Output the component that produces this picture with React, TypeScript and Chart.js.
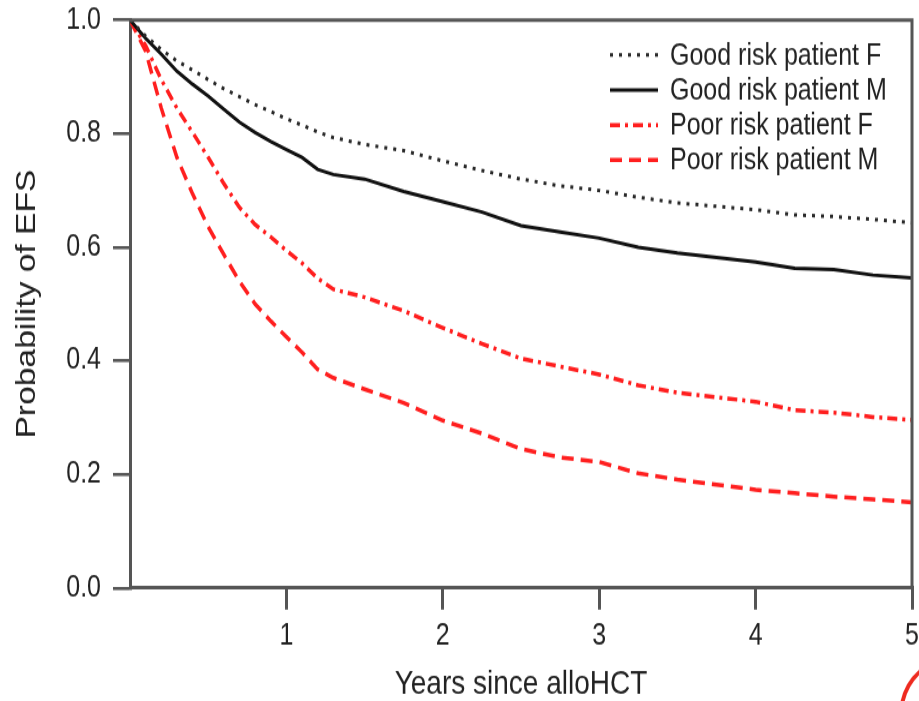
import React, { useEffect, useRef } from 'react';
import { Chart, registerables } from 'chart.js';

Chart.register(...registerables);

// ---- data (years since alloHCT, probability of EFS) ----
const times = [0, 0.1, 0.2, 0.3, 0.4, 0.5, 0.6, 0.7, 0.8, 0.9, 1.0, 1.1, 1.2, 1.3, 1.5, 1.75, 2.0, 2.25, 2.5, 2.75, 3.0, 3.25, 3.5, 3.75, 4.0, 4.25, 4.5, 4.75, 5.0];
const goodRiskF = [1.0, 0.972, 0.948, 0.928, 0.912, 0.895, 0.879, 0.865, 0.851, 0.839, 0.826, 0.815, 0.803, 0.793, 0.781, 0.77, 0.752, 0.735, 0.72, 0.708, 0.7, 0.688, 0.678, 0.672, 0.666, 0.657, 0.654, 0.649, 0.643];
const goodRiskM = [1.0, 0.968, 0.94, 0.91, 0.887, 0.866, 0.843, 0.82, 0.802, 0.786, 0.772, 0.758, 0.737, 0.728, 0.72, 0.698, 0.68, 0.662, 0.638, 0.627, 0.616, 0.6, 0.59, 0.582, 0.574, 0.563, 0.561, 0.551, 0.546];
const poorRiskF = [1.0, 0.955, 0.895, 0.845, 0.802, 0.758, 0.712, 0.67, 0.64, 0.618, 0.594, 0.572, 0.545, 0.526, 0.512, 0.488, 0.458, 0.43, 0.404, 0.39, 0.376, 0.357, 0.344, 0.336, 0.328, 0.313, 0.309, 0.301, 0.296];
const poorRiskM = [1.0, 0.945, 0.845, 0.758, 0.694, 0.636, 0.587, 0.54, 0.5, 0.47, 0.442, 0.415, 0.385, 0.37, 0.35, 0.326, 0.295, 0.272, 0.245, 0.23, 0.222, 0.202, 0.191, 0.182, 0.173, 0.167, 0.161, 0.156, 0.151];
const seriesLabels = ['Good risk patient F', 'Good risk patient M', 'Poor risk patient F', 'Poor risk patient M'];
const xTickValues = [1, 2, 3, 4, 5];
const yTickValues = [0, 0.2, 0.4, 0.6, 0.8, 1.0];
const xTitle = 'Years since alloHCT';
const yTitle = 'Probability of EFS';

// ---- layout / style ----
const W = 919;
const H_SCREEN = 701;
const H = 584; // canvas drawn at this height then stretched vertically to H_SCREEN
const S = H_SCREEN / H;
const cy = (screenY: number) => screenY / S;
const FONT = "'Liberation Sans', Arial, Helvetica, sans-serif";
const AXIS = '#555555';
const TEXT = '#222222';
const RED = '#ff1f1f';

const seriesStyles = [
  { color: '#2a2a2a', dash: [3, 6], width: 3 },
  { color: '#111111', dash: [] as number[], width: 3 },
  { color: RED, dash: [10, 5, 3, 5], width: 3.5 },
  { color: RED, dash: [12, 7], width: 3.5 },
];
const seriesValues = [goodRiskF, goodRiskM, poorRiskF, poorRiskM];

const framePlugin = {
  id: 'frameAndLegend',
  afterDraw(chart: any) {
    const { ctx, chartArea } = chart;
    ctx.save();
    // top and right frame lines
    ctx.strokeStyle = AXIS;
    ctx.lineWidth = 3;
    ctx.setLineDash([]);
    ctx.beginPath();
    ctx.moveTo(chartArea.left, chartArea.top);
    ctx.lineTo(chartArea.right, chartArea.top);
    ctx.lineTo(chartArea.right, chartArea.bottom);
    ctx.stroke();

    // legend inside plot, upper right
    const x0 = 610;
    const x1 = 658;
    const tx = 670;
    const rowY0 = cy(55);
    const rowStep = cy(35);
    ctx.font = `25px ${FONT}`;
    ctx.textBaseline = 'middle';
    ctx.textAlign = 'left';
    chart.data.datasets.forEach((ds: any, i: number) => {
      const y = rowY0 + i * rowStep;
      ctx.strokeStyle = ds.borderColor;
      ctx.lineWidth = ds.borderWidth;
      ctx.setLineDash(ds.borderDash || []);
      ctx.beginPath();
      ctx.moveTo(x0, y);
      ctx.lineTo(x1, y);
      ctx.stroke();
      ctx.setLineDash([]);
      ctx.fillStyle = TEXT;
      ctx.fillText(ds.label, tx, y + 1);
    });

    // partial red logo arc at bottom-right corner
    ctx.scale(1, 1 / S);
    ctx.strokeStyle = '#ee2a1f';
    ctx.lineWidth = 4;
    ctx.beginPath();
    ctx.arc(960, 715, 59, (-170 * Math.PI) / 180, (-125 * Math.PI) / 180);
    ctx.stroke();
    ctx.restore();
  },
};

export default function App() {
  const canvasRef = useRef<HTMLCanvasElement | null>(null);

  useEffect(() => {
    const canvas = canvasRef.current;
    if (!canvas) return;
    const datasets = seriesValues.map((vals, i) => ({
      label: seriesLabels[i],
      data: times.map((t, j) => ({ x: t, y: vals[j] })),
      borderColor: seriesStyles[i].color,
      backgroundColor: seriesStyles[i].color,
      borderWidth: seriesStyles[i].width,
      borderDash: seriesStyles[i].dash,
      pointRadius: 0,
      tension: 0,
      fill: false,
    }));

    const chart = new Chart(canvas, {
      type: 'line',
      data: { datasets },
      options: {
        responsive: false,
        animation: false,
        layout: { padding: { left: 0, right: 7, top: cy(20), bottom: 0 } },
        plugins: {
          legend: { display: false },
          tooltip: { enabled: false },
        },
        scales: {
          x: {
            type: 'linear',
            min: 0,
            max: 5,
            afterBuildTicks: (scale: any) => {
              scale.ticks = xTickValues.map((v) => ({ value: v }));
            },
            afterFit: (scale: any) => {
              scale.height = H - cy(588);
              scale.paddingLeft = 0;
              scale.paddingRight = 0;
            },
            ticks: {
              color: TEXT,
              font: { size: 25, family: FONT },
              padding: 7,
              maxRotation: 0,
              autoSkip: false,
              callback: (v: any) => String(v),
            },
            grid: {
              display: true,
              drawOnChartArea: false,
              drawTicks: true,
              tickLength: 18,
              color: AXIS,
              lineWidth: 3,
            },
            border: { display: true, color: AXIS, width: 3 },
            title: {
              display: true,
              text: xTitle,
              color: TEXT,
              font: { size: 28, family: FONT, lineHeight: 1 },
              padding: { top: 0, bottom: 0 },
            },
          },
          y: {
            type: 'linear',
            min: 0,
            max: 1,
            afterBuildTicks: (scale: any) => {
              scale.ticks = yTickValues.map((v) => ({ value: v }));
            },
            afterFit: (scale: any) => {
              scale.width = 130;
              scale.paddingTop = 0;
              scale.paddingBottom = 0;
            },
            ticks: {
              color: TEXT,
              font: { size: 25, family: FONT },
              padding: 12,
              autoSkip: false,
              callback: (v: any) => Number(v).toFixed(1),
            },
            grid: {
              display: true,
              drawOnChartArea: false,
              drawTicks: true,
              tickLength: 17,
              color: AXIS,
              lineWidth: 2.6,
            },
            border: { display: true, color: AXIS, width: 3 },
            title: {
              display: true,
              text: yTitle,
              color: TEXT,
              font: { size: 28, family: FONT, lineHeight: 1 },
              padding: { top: 13.5, bottom: 0 },
            },
          },
        },
      },
      plugins: [framePlugin],
    });

    return () => chart.destroy();
  }, []);

  return (
    <div style={{ position: 'absolute', left: 0, top: 0, width: W, height: H_SCREEN, background: '#ffffff' }}>
      <canvas
        ref={canvasRef}
        width={W}
        height={H}
        style={{ display: 'block', width: `${W}px`, height: `${H_SCREEN}px` }}
      />
    </div>
  );
}
